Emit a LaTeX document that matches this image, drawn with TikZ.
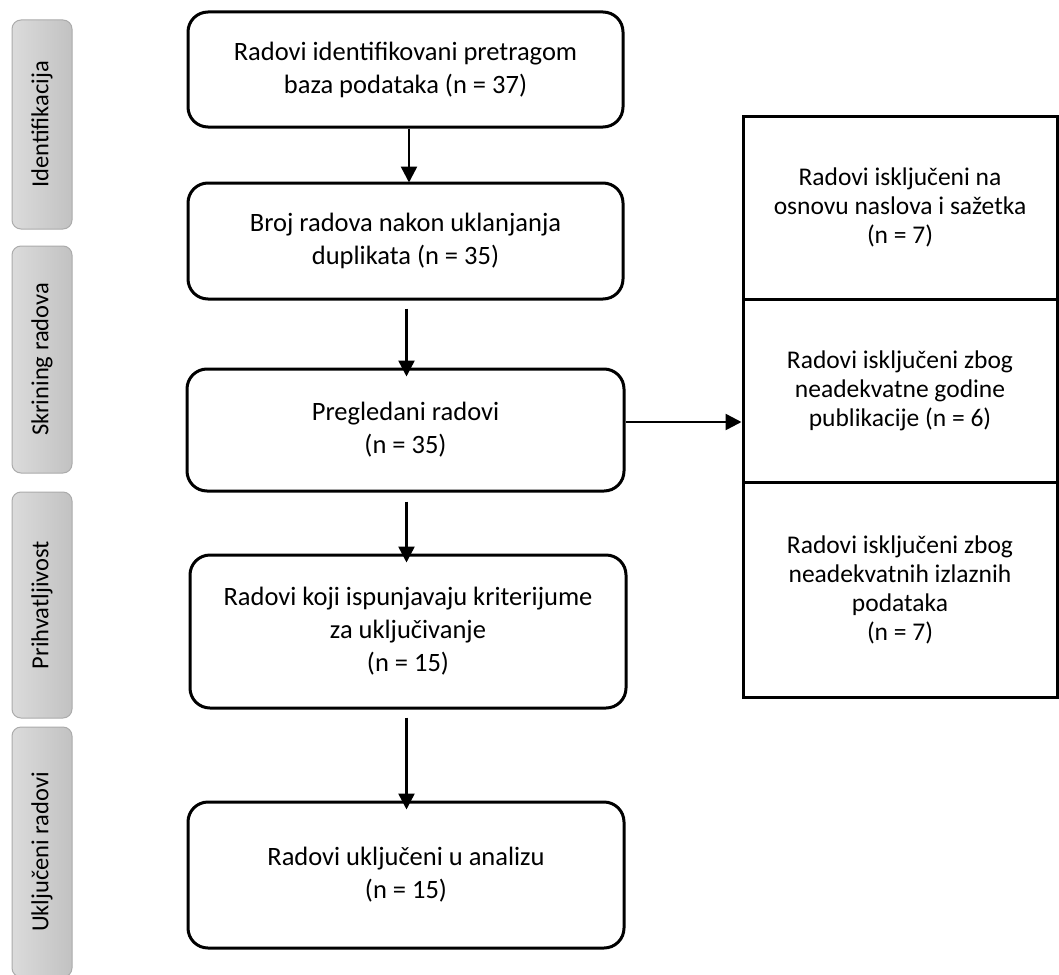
\documentclass[tikz,border=0pt]{standalone}
\usepackage{fontspec}
\setmainfont{Carlito}
\usetikzlibrary{arrows.meta}
\begin{document}
\begin{tikzpicture}[x=1pt,y=-1pt,
  mainbox/.style={draw=black, line width=3pt, rounded corners=20pt, fill=white,
    minimum width=#1, inner sep=0pt, align=center,
    font=\fontsize{26.5}{33}\selectfont},
  rightbox/.style={draw=black, line width=3pt, fill=white, minimum width=314pt,
    inner sep=0pt, align=center, font=\fontsize{25.5}{29}\selectfont},
  sidebox/.style={draw=black!33, line width=1pt, rounded corners=9pt,
    left color=black!14, right color=black!24, minimum width=60pt, inner sep=0pt},
  sidetext/.style={rotate=90, font=\fontsize{24.5}{28}\selectfont},
  arr/.style={line width=2.5pt, -{Triangle[length=16pt,width=16pt]}}
]
\useasboundingbox (0,0) rectangle (1059,974);

% side panels
\node[sidebox, minimum height=209pt] (s1) at (42,124.5) {};
\node[sidetext] (s1t) at (s1.center) {Identifikacija};
\node[sidebox, minimum height=227pt] (s2) at (42,359.5) {};
\node[sidetext] (s2t) at (s2.center) {Skrining radova};
\node[sidebox, minimum height=226pt] (s3) at (42,605) {};
\node[sidetext] (s3t) at (s3.center) {Prihvatljivost};
\node[sidebox, minimum height=250pt] (s4) at (42,852) {};
\node[sidetext] (s4t) at (s4.center) {Uključeni radovi};

% main boxes
\node[mainbox=435pt, minimum height=115pt] (b1) at (405.5,69.5)
  {Radovi identifikovani pretragom\\baza podataka (n = 37)};
\node[mainbox=435pt, minimum height=116pt] (b2) at (405.5,241)
  {Broj radova nakon uklanjanja\\duplikata (n = 35)};
\node[mainbox=437pt, minimum height=122pt] (b3) at (405.5,430)
  {Pregledani radovi\\(n = 35)};
\node[mainbox=436pt, minimum height=153pt] (b4) at (408,631.5)
  {Radovi koji ispunjavaju kriterijume\\za uključivanje\\(n = 15)};
\node[mainbox=436pt, minimum height=146pt] (b5) at (406,875)
  {Radovi uključeni u analizu\\(n = 15)};

% right boxes
\node[rightbox, minimum height=183pt] (r1) at (900,207.5)
  {Radovi isključeni na\\osnovu naslova i sažetka\\(n = 7)};
\node[rightbox, minimum height=183pt] (r2) at (900,390.5)
  {Radovi isključeni zbog\\neadekvatne godine\\publikacije (n = 6)};
\node[rightbox, minimum height=215pt] (r3) at (900,589.5)
  {Radovi isključeni zbog\\neadekvatnih izlaznih\\podataka\\(n = 7)};

% connectors
\draw[arr] ([xshift=3.5pt]b1.south) -- ([xshift=3.5pt,yshift=-1pt]b2.north);
\draw[arr] ([xshift=1pt,yshift=-8pt]b2.south) -- ([xshift=1pt,yshift=-9pt]b3.north);
\draw[arr] ([xshift=1pt,yshift=-9pt]b3.south) -- ([xshift=-1.5pt,yshift=-9pt]b4.north);
\draw[arr] ([xshift=-1.5pt,yshift=-8pt]b4.south) -- ([xshift=0.5pt,yshift=-9pt]b5.north);
\coordinate (hy) at (0,422);
\draw[arr] (b3.east |- hy) -- (r2.west |- hy);
\end{tikzpicture}
\end{document}
